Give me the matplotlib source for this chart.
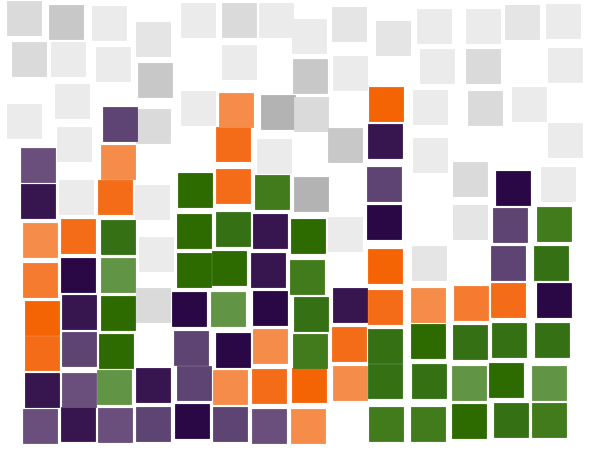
import matplotlib
matplotlib.use("Agg")
import matplotlib.pyplot as plt
from matplotlib.patches import Rectangle

# kinds per column, bottom row first ("" = empty slot)
stacks = [
    ["P1", "P3", "O3", "O4", "O2", "O1", "P3", "P1", "W1", "W3", "W3"],
    ["P3", "P1", "P2", "P3", "P4", "O3", "W1", "W1", "W1", "W1", "W4"],
    ["P1", "G1", "G4", "G4", "G1", "G3", "O3", "O1", "P2", "W1", "W1"],
    ["P2", "P3", "", "W3", "W1", "", "W1", "", "W3", "W4", "W2"],
    ["P4", "P2", "P2", "P4", "G4", "G4", "G4", "", "W1", "", "W1"],
    ["P2", "O1", "P4", "G1", "G4", "G3", "O3", "O3", "O1", "W1", "W3"],
    ["P1", "O3", "O1", "P4", "P3", "P3", "G2", "W1", "W5", "", "W1"],
    ["O1", "O4", "G2", "G3", "G2", "G4", "W5", "", "W3", "W4", "W1"],
    ["", "O1", "O3", "P3", "", "W1", "", "W4", "", "W1", "W2"],
    ["G2", "G3", "G3", "O3", "O4", "P4", "P2", "P3", "O4", "", "W2"],
    ["G2", "G3", "G4", "O1", "W2", "", "", "W1", "W1", "W1", "W1"],
    ["G4", "G1", "G3", "O2", "", "W2", "W3", "", "W3", "W3", "W1"],
    ["G3", "G4", "G3", "O3", "P2", "P2", "P4", "", "W1", "", "W2"],
    ["G2", "G1", "G3", "P4", "G3", "G2", "W1", "W1", "", "W1", "W1"],
]

# jitter, in cell units
jitter_x = [
    [-0.01, 0.04, 0.06, 0.04, 0.01, -0.01, -0.05, -0.04, -0.42, -0.29, -0.41],
    [-0.03, 0.00, 0.01, 0.00, -0.03, -0.03, -0.08, -0.13, -0.17, -0.27, -0.33],
    [-0.08, -0.09, -0.04, -0.01, 0.01, -0.01, -0.08, -0.01, 0.04, -0.14, -0.24],
    [-0.09, -0.09, 0.00, -0.09, -0.03, 0.00, -0.14, 0.00, -0.09, -0.05, -0.10],
    [-0.09, -0.04, -0.14, -0.19, -0.06, -0.05, -0.03, 0.00, 0.04, 0.00, 0.05],
    [-0.14, -0.14, -0.06, -0.18, -0.15, -0.06, -0.04, -0.04, 0.03, 0.09, 0.09],
    [-0.12, -0.13, -0.09, -0.09, -0.15, -0.10, -0.06, -0.01, 0.10, 0.00, 0.05],
    [-0.12, -0.09, -0.08, -0.06, -0.15, -0.13, -0.06, 0.00, -0.04, -0.08, -0.09],
    [0.00, -0.06, -0.08, -0.06, 0.00, -0.17, 0.00, -0.19, 0.00, -0.05, -0.08],
    [-0.13, -0.15, -0.15, -0.15, -0.15, -0.18, -0.19, -0.15, -0.14, 0.00, 0.06],
    [-0.04, -0.03, -0.05, -0.06, -0.03, 0.00, 0.00, -0.01, 0.01, 0.19, 0.09],
    [0.01, 0.01, 0.03, 0.04, 0.00, 0.03, 0.03, 0.00, 0.42, 0.37, 0.37],
    [0.08, -0.05, 0.03, 0.00, 0.01, 0.06, 0.14, 0.00, 0.55, 0.00, 0.37],
    [0.05, 0.04, 0.13, 0.17, 0.09, 0.18, 0.27, 0.46, 0.00, 0.46, 0.42],
]
jitter_y = [
    [-0.04, -0.14, -0.18, -0.28, -0.32, -0.27, -0.27, -0.36, -0.23, 0.37, 0.40],
    [0.01, -0.12, -0.08, -0.13, -0.17, -0.18, -0.19, 0.19, 0.29, 0.35, 0.32],
    [-0.03, -0.06, -0.12, -0.15, -0.17, -0.21, -0.19, -0.29, -0.31, 0.24, 0.27],
    [0.00, -0.01, 0.00, 0.06, 0.36, 0.00, -0.32, 0.00, -0.36, -0.18, -0.13],
    [0.08, 0.04, -0.04, -0.05, -0.05, -0.04, 0.01, 0.00, 0.09, 0.00, 0.36],
    [-0.01, -0.06, -0.09, -0.04, -0.01, 0.00, 0.10, 0.19, 0.06, 0.27, 0.37],
    [-0.06, -0.03, -0.01, -0.03, -0.04, -0.05, -0.06, -0.12, -0.01, 0.00, 0.36],
    [-0.06, -0.01, -0.14, -0.18, -0.23, -0.19, -0.09, 0.00, -0.04, -0.08, -0.06],
    [0.00, 0.04, 0.05, 0.05, 0.00, -0.13, 0.00, 0.15, 0.00, 0.01, 0.26],
    [0.01, 0.09, 0.01, -0.01, 0.06, 0.17, 0.15, 0.26, 0.21, 0.00, -0.09],
    [0.01, 0.09, 0.12, 0.05, 0.14, 0.00, 0.00, -0.10, 0.12, 0.17, 0.21],
    [0.08, 0.06, 0.09, 0.09, 0.00, 0.18, 0.28, 0.00, 0.10, 0.18, 0.21],
    [0.10, 0.13, 0.15, 0.17, 0.14, 0.10, 0.04, 0.00, 0.21, 0.00, 0.32],
    [0.10, 0.06, 0.15, 0.17, 0.13, 0.13, 0.15, 0.27, 0.00, 0.21, 0.33],
]

palette = {
    "P1": "#6a4f7d", "P2": "#5e4472", "P3": "#37154f", "P4": "#2a0846",
    "O1": "#f58c4a", "O2": "#f57b30", "O3": "#f56c18", "O4": "#f56404",
    "G1": "#629445", "G2": "#417b1c", "G3": "#357114", "G4": "#2d6a00",
    "W1": "#ebebeb", "W2": "#e5e5e5", "W3": "#dadada", "W4": "#c8c8c8",
    "W5": "#b3b3b3",
}

fig = plt.figure(figsize=(6, 4.5), dpi=100)
ax = fig.add_axes([0, 0, 1, 1])
cell = 39.0  # pixels per grid cell
size = 34.0 / cell

for c, col in enumerate(stacks):
    for r, kind in enumerate(col):
        if not kind:
            continue
        x = c + jitter_x[c][r]
        y = r + jitter_y[c][r]
        z = 1 if kind.startswith("W") else 2
        ax.add_patch(Rectangle((x - size / 2, y - size / 2), size, size,
                               facecolor=palette[kind], edgecolor=palette[kind],
                               linewidth=0.6, alpha=1.0, zorder=z))

ax.set_xlim(-40 / cell, 560 / cell)
ax.set_ylim(-26 / cell, 424 / cell)
ax.axis("off")
fig.savefig("out.png", dpi=100)
